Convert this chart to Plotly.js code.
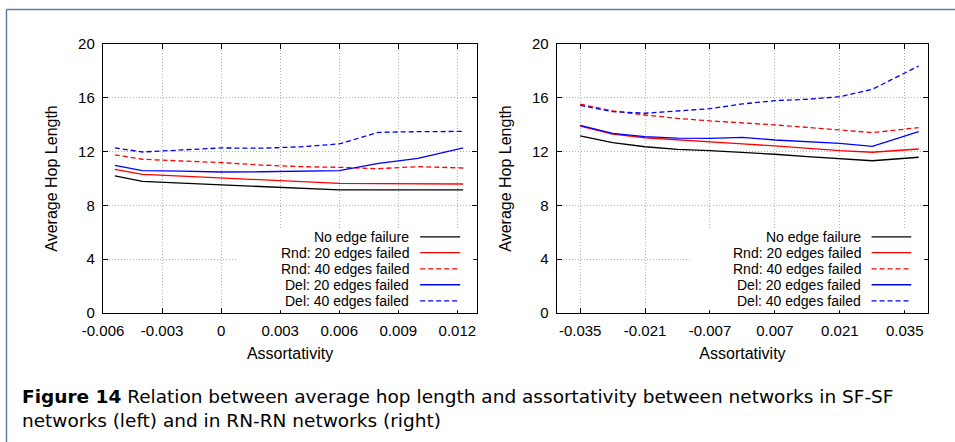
<!DOCTYPE html>
<html>
<head>
<meta charset="utf-8">
<script src="https://cdn.plot.ly/plotly-3.0.1.min.js"></script>
<style>
  html, body { margin: 0; padding: 0; background: #fff; }
  #chart { width: 955px; height: 442px; }
</style>
</head>
<body>
<div id="chart"></div>
<script>
// ---------- data ----------
const seriesNames = ["No edge failure", "Rnd: 20 edges failed", "Rnd: 40 edges failed", "Del: 20 edges failed", "Del: 40 edges failed"];

// Left panel: SF-SF networks
const xLeft = [-0.0054, -0.004, -0.002, 0, 0.002, 0.004, 0.006, 0.008, 0.010, 0.0123];
const leftNoFail = [10.19, 9.79, 9.65, 9.52, 9.40, 9.28, 9.15, 9.15, 9.15, 9.15];
const leftRnd20  = [10.68, 10.31, 10.17, 10.04, 9.90, 9.77, 9.64, 9.62, 9.60, 9.59];
const leftRnd40  = [11.75, 11.43, 11.30, 11.18, 11.00, 10.88, 10.83, 10.73, 10.88, 10.78];
const leftDel20  = [10.98, 10.58, 10.55, 10.48, 10.50, 10.55, 10.58, 11.13, 11.50, 12.27];
const leftDel40  = [12.27, 11.97, 12.12, 12.27, 12.25, 12.35, 12.57, 13.43, 13.48, 13.50];

// Right panel: RN-RN networks
const xRight = [-0.035, -0.028, -0.021, -0.014, -0.007, 0, 0.007, 0.014, 0.021, 0.028, 0.038];
const rightNoFail = [13.16, 12.66, 12.36, 12.17, 12.07, 11.95, 11.80, 11.62, 11.47, 11.32, 11.58];
const rightRnd20  = [13.90, 13.30, 13.03, 12.86, 12.74, 12.57, 12.42, 12.24, 12.07, 11.95, 12.19];
const rightRnd40  = [15.52, 15.02, 14.72, 14.47, 14.28, 14.15, 13.98, 13.80, 13.60, 13.41, 13.78];
const rightDel20  = [13.95, 13.36, 13.11, 13.00, 12.98, 13.06, 12.86, 12.74, 12.61, 12.39, 13.48];
const rightDel40  = [15.44, 14.97, 14.85, 15.00, 15.19, 15.54, 15.79, 15.89, 16.08, 16.63, 18.36];

const leftTickVals  = [-0.006, -0.003, 0, 0.003, 0.006, 0.009, 0.012];
const leftTickText  = ["-0.006", "-0.003", "0", "0.003", "0.006", "0.009", "0.012"];
const rightTickVals = [-0.035, -0.021, -0.007, 0.007, 0.021, 0.035];
const rightTickText = ["-0.035", "-0.021", "-0.007", "0.007", "0.021", "0.035"];
const yTickVals = [0, 4, 8, 12, 16, 20];

const xTitle = "Assortativity";
const yTitle = "Average Hop Length";
const captionBold = "Figure 14";
const captionText = " Relation between average hop length and assortativity between networks in SF-SF<br>networks (left) and in RN-RN networks (right)";

// ---------- styles ----------
const seriesColors = ["#000000", "#ff0000", "#ff0000", "#0000ff", "#0000ff"];
const seriesDash   = ["solid", "solid", "5px,3px", "solid", "5px,3px"];

const leftSeries  = [leftNoFail, leftRnd20, leftRnd40, leftDel20, leftDel40];
const rightSeries = [rightNoFail, rightRnd20, rightRnd40, rightDel20, rightDel40];

const traces = [];
leftSeries.forEach((ys, i) => traces.push({
  x: xLeft, y: ys, type: "scatter", mode: "lines", name: seriesNames[i],
  xaxis: "x", yaxis: "y", showlegend: false, hoverinfo: "x+y",
  line: { color: seriesColors[i], width: 1.3, dash: seriesDash[i] }
}));
rightSeries.forEach((ys, i) => traces.push({
  x: xRight, y: ys, type: "scatter", mode: "lines", name: seriesNames[i],
  xaxis: "x2", yaxis: "y2", showlegend: false, hoverinfo: "x+y",
  line: { color: seriesColors[i], width: 1.3, dash: seriesDash[i] }
}));

const FONT = "Liberation Sans, Arial, sans-serif";

function xAxisCfg(domain, range, tv, tt, anchor) {
  return {
    domain: domain, range: range, tickvals: tv, ticktext: tt, anchor: anchor,
    ticks: "inside", ticklen: 5, tickwidth: 1, tickcolor: "#000",
    showline: true, linecolor: "#000", linewidth: 1.3, mirror: "allticks",
    showgrid: true, gridcolor: "#b0b0b0", gridwidth: 1, griddash: "1px,2px",
    zeroline: false, tickfont: { family: FONT, size: 15, color: "#000" },
    ticklabelstandoff: 4,
    title: { text: xTitle, font: { family: FONT, size: 16, color: "#000" }, standoff: 9 },
    fixedrange: true
  };
}
function yAxisCfg(anchor) {
  return {
    domain: [0.2919, 0.9005], range: [0, 20], tickvals: yTickVals, anchor: anchor,
    ticks: "inside", ticklen: 5, tickwidth: 1, tickcolor: "#000",
    showline: true, linecolor: "#000", linewidth: 1.3, mirror: "allticks",
    showgrid: true, gridcolor: "#b0b0b0", gridwidth: 1, griddash: "1px,2px",
    zeroline: false, tickfont: { family: FONT, size: 15, color: "#000" },
    ticklabelstandoff: 4,
    title: { text: yTitle, font: { family: FONT, size: 16, color: "#000" }, standoff: 16 },
    fixedrange: true
  };
}

const shapes = [];
const annotations = [];

// legend boxes and entries (text right-aligned, sample line on the right)
const legendRowY = [0.283, 0.224, 0.164, 0.105, 0.045];
[["x", "y"], ["x2", "y2"]].forEach(([xa, ya]) => {
  shapes.push({
    type: "rect", xref: xa + " domain", yref: ya + " domain",
    x0: 0.358, x1: 0.99, y0: 0.01, y1: 0.315,
    fillcolor: "#ffffff", line: { width: 0 }, layer: "above"
  });
  seriesNames.forEach((nm, i) => {
    annotations.push({
      xref: xa + " domain", yref: ya + " domain", x: 0.822, y: legendRowY[i],
      xanchor: "right", yanchor: "middle", showarrow: false, text: nm,
      borderpad: 0,
      font: { family: FONT, size: 14, color: "#000" }
    });
    shapes.push({
      type: "line", xref: xa + " domain", yref: ya + " domain",
      x0: 0.848, x1: 0.955, y0: legendRowY[i], y1: legendRowY[i],
      line: { color: seriesColors[i], width: 1.3, dash: seriesDash[i] }, layer: "above"
    });
  });
});

// outer frame (figure box, open to the right/bottom)
shapes.push({
  type: "line", xref: "paper", yref: "paper", x0: 0.0068, x1: 0.0068, y0: 0, y1: 0.9785,
  line: { color: "#5d7ea8", width: 1.5 }, layer: "above"
});
shapes.push({
  type: "line", xref: "paper", yref: "paper", x0: 0.0068, x1: 1, y0: 0.9785, y1: 0.9785,
  line: { color: "#5d7ea8", width: 1.5 }, layer: "above"
});

// caption
annotations.push({
  xref: "paper", yref: "paper", x: 0.021, y: 0.132, xanchor: "left", yanchor: "top",
  align: "left", showarrow: false,
  text: "<b>" + captionBold + "</b>" + captionText,
  font: { family: "DejaVu Sans, sans-serif", size: 18.5, color: "#000" }
});

const layout = {
  width: 955, height: 442,
  margin: { l: 0, r: 0, t: 0, b: 0 },
  paper_bgcolor: "#ffffff", plot_bgcolor: "#ffffff",
  showlegend: false,
  xaxis: xAxisCfg([0.1079, 0.4995], [-0.006, 0.013], leftTickVals, leftTickText, "y"),
  yaxis: yAxisCfg("x"),
  xaxis2: xAxisCfg([0.5832, 0.9717], [-0.04, 0.04], rightTickVals, rightTickText, "y2"),
  yaxis2: yAxisCfg("x2"),
  shapes: shapes,
  annotations: annotations
};

Plotly.newPlot("chart", traces, layout, { staticPlot: true, displayModeBar: false });
</script>
</body>
</html>
